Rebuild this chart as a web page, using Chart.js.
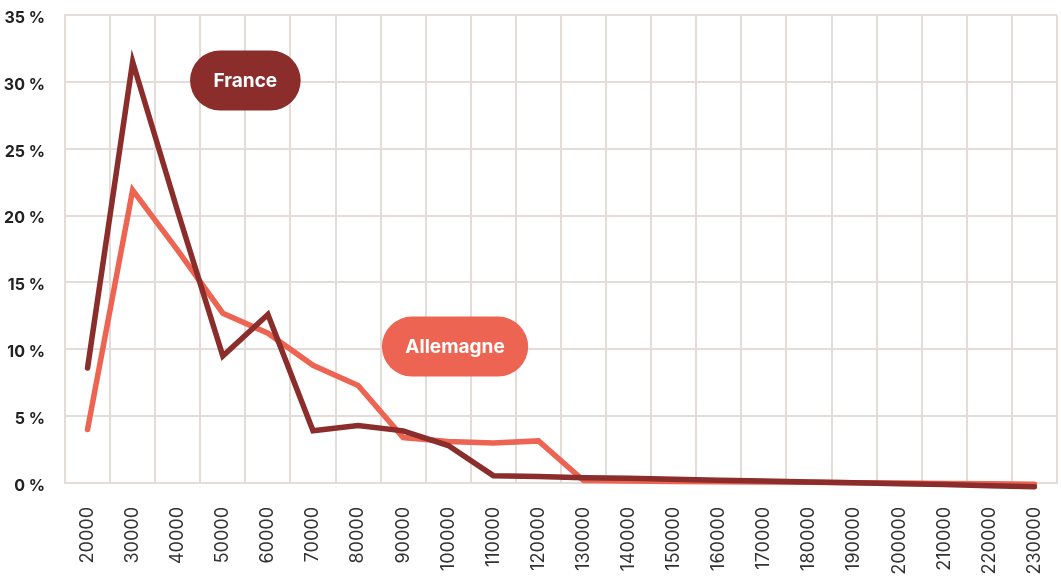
<!DOCTYPE html>
<html lang="fr">
<head>
    <meta charset="UTF-8">
    <title>Répartition des salaires France / Allemagne</title>
    <script src="https://cdn.jsdelivr.net/npm/chart.js"></script>
    <style>
        html, body { margin: 0; padding: 0; background: #fff; }
        #wrap { width: 1061px; height: 580px; }
    </style>
</head>
<body>
    <div id="wrap"><canvas id="salaryChart" width="1061" height="580"></canvas></div>
    <script>
        // data
        const salaries = [20000, 30000, 40000, 50000, 60000, 70000, 80000, 90000, 100000, 110000, 120000,
            130000, 140000, 150000, 160000, 170000, 180000, 190000, 200000, 210000, 220000, 230000];
        const france = [8.6, 31.5, 20.3, 9.5, 12.6, 3.9, 4.3, 3.9, 2.8, 0.55, 0.48,
            0.4, 0.35, 0.28, 0.2, 0.15, 0.08, 0.02, -0.05, -0.12, -0.2, -0.28];
        const allemagne = [4.0, 21.9, 17.4, 12.7, 11.2, 8.8, 7.3, 3.4, 3.1, 3.0, 3.15,
            0.18, 0.15, 0.12, 0.1, 0.07, 0.05, 0.02, 0.0, -0.03, -0.06, -0.1];
        const yTicks = [0, 5, 10, 15, 20, 25, 30, 35];

        const darkRed = '#8b2d2b';
        const coral = '#ed6452';
        const gridColor = '#e3dcd9';
        const fontFamily = 'Inter, "DejaVu Sans", sans-serif';

        // draws the rounded name tags inside the plot
        const pillLabels = {
            id: 'pillLabels',
            afterDatasetsDraw(chart, args, opts) {
                const ctx = chart.ctx;
                const x = chart.scales.x, y = chart.scales.y;
                ctx.save();
                ctx.font = 'bold 19px ' + fontFamily;
                ctx.textAlign = 'center';
                ctx.textBaseline = 'middle';
                opts.items.forEach(item => {
                    const cx = x.getPixelForValue(item.index);
                    const cy = y.getPixelForValue(item.value);
                    const w = ctx.measureText(item.text).width + 47;
                    const h = 60;
                    ctx.fillStyle = item.color;
                    ctx.beginPath();
                    ctx.roundRect(cx - w / 2, cy - h / 2, w, h, h / 2);
                    ctx.fill();
                    ctx.fillStyle = '#fff';
                    ctx.fillText(item.text, cx, cy + 1);
                });
                ctx.restore();
            }
        };

        const ctx = document.getElementById('salaryChart').getContext('2d');
        new Chart(ctx, {
            type: 'line',
            data: {
                labels: salaries.map(String),
                datasets: [{
                    label: 'France',
                    data: france,
                    borderColor: darkRed,
                    borderWidth: 5.5,
                    pointRadius: 0,
                    tension: 0,
                    borderCapStyle: 'round',
                    clip: 10
                }, {
                    label: 'Allemagne',
                    data: allemagne,
                    borderColor: coral,
                    borderWidth: 5.5,
                    pointRadius: 0,
                    tension: 0,
                    borderCapStyle: 'round',
                    clip: 10
                }]
            },
            options: {
                responsive: false,
                animation: false,
                layout: { padding: { top: 15, right: 4, left: 0, bottom: 0 } },
                plugins: {
                    legend: { display: false },
                    tooltip: { enabled: false },
                    pillLabels: {
                        items: [
                            { text: 'France', index: 3.5, value: 30.1, color: darkRed },
                            { text: 'Allemagne', index: 8.15, value: 10.2, color: coral }
                        ]
                    }
                },
                scales: {
                    x: {
                        offset: true,
                        grid: { color: gridColor, lineWidth: 2, drawTicks: false, offset: true },
                        border: { color: gridColor, width: 2 },
                        ticks: {
                            autoSkip: false,
                            minRotation: 90,
                            maxRotation: 90,
                            padding: 24,
                            color: '#333',
                            font: { family: fontFamily, size: 18, weight: 'normal' }
                        },
                        afterFit(scale) {
                            scale.height = 97;
                            scale.paddingLeft = 0;
                            scale.paddingRight = 0;
                        }
                    },
                    y: {
                        min: 0,
                        max: 35,
                        afterBuildTicks(scale) { scale.ticks = yTicks.map(v => ({ value: v })); },
                        grid: { color: gridColor, lineWidth: 2, drawTicks: false },
                        border: { color: gridColor, width: 2 },
                        ticks: {
                            padding: 20,
                            labelOffset: 3,
                            color: '#222',
                            font: { family: fontFamily, size: 16, weight: 'bold' },
                            callback: v => v + ' %'
                        },
                        afterFit(scale) {
                            scale.width = 65;
                            scale.paddingTop = 0;
                            scale.paddingBottom = 0;
                        }
                    }
                }
            },
            plugins: [pillLabels]
        });
    </script>
</body>
</html>
